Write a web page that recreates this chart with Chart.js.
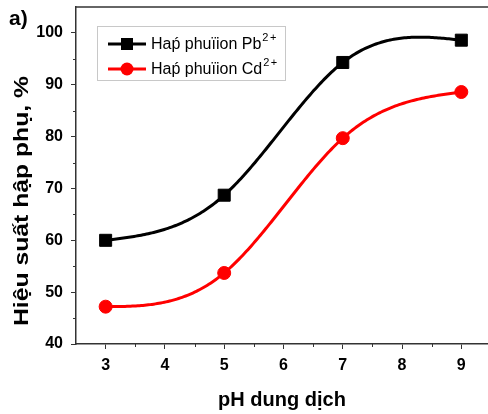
<!DOCTYPE html>
<html>
<head>
<meta charset="utf-8">
<script src="https://cdn.jsdelivr.net/npm/chart.js@4/dist/chart.umd.min.js"></script>
<style>
html,body{margin:0;padding:0;background:#fff;overflow:hidden;}
canvas{display:block;}
</style>
</head>
<body>
<canvas id="c" width="488" height="414"></canvas>
<script>
const phValues = [3, 5, 7, 9];
const pbValues = [60.0, 68.7, 94.3, 98.6];
const cdValues = [47.2, 53.7, 79.7, 88.6];
const xTickLabels = [3, 4, 5, 6, 7, 8, 9];
const yTickLabels = [40, 50, 60, 70, 80, 90, 100];
const xMinorTicks = [3.5, 4.5, 5.5, 6.5, 7.5, 8.5];
const yMinorTicks = [45, 55, 65, 75, 85, 95];
const seriesNames = ['Haṕ phuïion Pb', 'Haṕ phuïion Cd'];
const seriesSup = ['2', '2'];
const seriesSup2 = ['+', '+'];
const xTitle = 'pH dung dịch';
const yTitle = 'Hiệu suất hập phụ, %';
const panelLabel = 'a)';

const AXIS = '#333';
const FAMILY = '"Liberation Sans", Arial, sans-serif';

function naturalSpline(xs, ys) {
  const n = xs.length;
  const h = [], M = new Array(n).fill(0);
  for (let i = 0; i < n - 1; i++) h.push(xs[i + 1] - xs[i]);
  const sub = [], diag = [], sup = [], rhs = [];
  for (let i = 1; i < n - 1; i++) {
    sub.push(h[i - 1]); diag.push(2 * (h[i - 1] + h[i])); sup.push(h[i]);
    rhs.push(6 * ((ys[i + 1] - ys[i]) / h[i] - (ys[i] - ys[i - 1]) / h[i - 1]));
  }
  const m = diag.length;
  for (let i = 1; i < m; i++) {
    const w = sub[i] / diag[i - 1];
    diag[i] -= w * sup[i - 1];
    rhs[i] -= w * rhs[i - 1];
  }
  const sol = new Array(m);
  for (let i = m - 1; i >= 0; i--) {
    sol[i] = (rhs[i] - (i < m - 1 ? sup[i] * sol[i + 1] : 0)) / diag[i];
  }
  for (let i = 0; i < m; i++) M[i + 1] = sol[i];
  return function (x) {
    let i = 0;
    while (i < n - 2 && x > xs[i + 1]) i++;
    const hi = h[i], A = xs[i + 1] - x, B = x - xs[i];
    return M[i] * A * A * A / (6 * hi) + M[i + 1] * B * B * B / (6 * hi)
      + (ys[i] / hi - M[i] * hi / 6) * A + (ys[i + 1] / hi - M[i + 1] * hi / 6) * B;
  };
}

const splinePlugin = {
  id: 'spline',
  beforeDatasetsDraw(chart) {
    const ctx = chart.ctx, xs = chart.scales.x, ys = chart.scales.y;
    const area = chart.chartArea;
    ctx.save();
    ctx.beginPath();
    ctx.rect(area.left, area.top, area.right - area.left, area.bottom - area.top);
    ctx.clip();
    chart.data.datasets.forEach(ds => {
      const px = ds.data.map(p => p.x), py = ds.data.map(p => p.y);
      const f = naturalSpline(px, py);
      ctx.beginPath();
      const x0 = px[0], x1 = px[px.length - 1];
      const N = 200;
      for (let k = 0; k <= N; k++) {
        const xv = x0 + (x1 - x0) * k / N;
        const X = xs.getPixelForValue(xv), Y = ys.getPixelForValue(f(xv));
        if (k === 0) ctx.moveTo(X, Y); else ctx.lineTo(X, Y);
      }
      ctx.strokeStyle = ds.borderColor;
      ctx.lineWidth = 3;
      ctx.lineJoin = 'round';
      ctx.stroke();
    });
    ctx.restore();
  }
};

const framePlugin = {
  id: 'frame',
  afterDraw(chart) {
    const ctx = chart.ctx, a = chart.chartArea, xs = chart.scales.x, ys = chart.scales.y;
    ctx.save();
    ctx.strokeStyle = AXIS;
    ctx.lineWidth = 1.5;
    ctx.beginPath();
    ctx.moveTo(a.left, a.top); ctx.lineTo(a.right, a.top);
    ctx.stroke();
    ctx.lineWidth = 1;
    ctx.beginPath();
    xMinorTicks.forEach(v => {
      const X = Math.round(xs.getPixelForValue(v)) + 0.5;
      ctx.moveTo(X, a.bottom); ctx.lineTo(X, a.bottom + 3);
    });
    yMinorTicks.forEach(v => {
      const Y = Math.round(ys.getPixelForValue(v)) + 0.5;
      ctx.moveTo(a.left, Y); ctx.lineTo(a.left - 3, Y);
    });
    ctx.stroke();
    // panel label
    ctx.fillStyle = '#000';
    ctx.font = 'bold 21px ' + FAMILY;
    ctx.textBaseline = 'alphabetic';
    ctx.textAlign = 'left';
    ctx.fillText(panelLabel, 9, 25);
    // y title (stretched along its length like the reference)
    ctx.save();
    ctx.font = 'bold 20px ' + FAMILY;
    const tw = ctx.measureText(yTitle).width;
    ctx.translate(22, 201);
    ctx.rotate(-Math.PI / 2);
    ctx.scale(250 / tw, 1);
    ctx.textAlign = 'center';
    ctx.textBaseline = 'middle';
    ctx.fillText(yTitle, 0, 0);
    ctx.restore();
    // legend
    const bx = 97, by = 26, bw = 188, bh = 54;
    ctx.strokeStyle = '#c8c8c8';
    ctx.lineWidth = 1;
    ctx.strokeRect(bx + 0.5, by + 0.5, bw, bh);
    chart.data.datasets.forEach((ds, i) => {
      const cy = 44 + i * 25;
      ctx.strokeStyle = ds.borderColor;
      ctx.lineWidth = 3;
      ctx.beginPath();
      ctx.moveTo(108, cy); ctx.lineTo(146, cy);
      ctx.stroke();
      ctx.fillStyle = ds.backgroundColor;
      ctx.beginPath();
      if (ds.pointStyle === 'rect') {
        ctx.rect(127 - 6, cy - 6, 12, 12);
      } else {
        ctx.arc(127, cy, 6.5, 0, Math.PI * 2);
      }
      ctx.fill();
      ctx.fillStyle = '#000';
      ctx.font = '16px ' + FAMILY;
      ctx.textBaseline = 'middle';
      ctx.fillText(seriesNames[i], 151, cy + 1);
      const w = ctx.measureText(seriesNames[i]).width;
      ctx.font = '11px ' + FAMILY;
      ctx.fillText(seriesSup[i], 151 + w + 1, cy - 6);
      const w2 = ctx.measureText(seriesSup[i]).width;
      ctx.fillText(seriesSup2[i], 151 + w + 1 + w2 + 1.5, cy - 6);
    });
    ctx.restore();
  }
};

const tickFont = { family: FAMILY, size: 16, weight: 'bold' };

new Chart(document.getElementById('c'), {
  type: 'scatter',
  data: {
    datasets: [
      {
        label: 'Pb',
        data: phValues.map((x, i) => ({ x, y: pbValues[i] })),
        borderColor: '#000', backgroundColor: '#000',
        pointStyle: 'rect', pointRadius: 8.5, pointHoverRadius: 8.5, showLine: false
      },
      {
        label: 'Cd',
        data: phValues.map((x, i) => ({ x, y: cdValues[i] })),
        borderColor: '#ff0000', backgroundColor: '#ff0000',
        pointStyle: 'circle', pointRadius: 6.5, pointHoverRadius: 6.5, showLine: false
      }
    ]
  },
  options: {
    responsive: false,
    animation: false,
    events: [],
    layout: { autoPadding: false, padding: { top: 7, left: 0, right: 0, bottom: 0 } },
    plugins: { legend: { display: false }, tooltip: { enabled: false } },
    scales: {
      x: {
        type: 'linear', min: 2.5, max: 9.45,
        afterBuildTicks: s => { s.ticks = xTickLabels.map(v => ({ value: v })); },
        afterFit: s => { s.height = 70; s.paddingLeft = 0; s.paddingRight = 0; },
        grid: { drawOnChartArea: false, drawTicks: true, tickLength: 5, tickColor: AXIS, tickWidth: 1 },
        border: { display: true, color: AXIS, width: 1.5 },
        ticks: { font: tickFont, color: '#000', padding: 7, maxRotation: 0, autoSkip: false },
        title: { display: true, text: xTitle, color: '#000',
          font: { family: FAMILY, size: 20, weight: 'bold' },
          padding: { top: 0, bottom: 2 } }
      },
      y: {
        type: 'linear', min: 40, max: 105,
        afterBuildTicks: s => { s.ticks = yTickLabels.map(v => ({ value: v })); },
        afterFit: s => { s.width = 76; s.paddingTop = 0; s.paddingBottom = 0; },
        grid: { drawOnChartArea: false, drawTicks: true, tickLength: 5, tickColor: AXIS, tickWidth: 1 },
        border: { display: true, color: AXIS, width: 1.5 },
        ticks: { font: tickFont, color: '#000', padding: 8, autoSkip: false },
        title: { display: false }
      }
    }
  },
  plugins: [splinePlugin, framePlugin]
});
</script>
</body>
</html>
